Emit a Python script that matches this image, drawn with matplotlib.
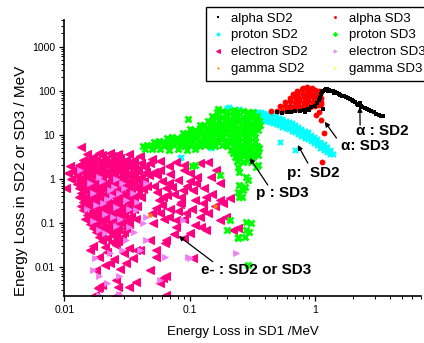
"""
dE-E particle identification plot: energy loss in SD2/SD3 vs SD1
(alpha, proton, electron and gamma bands, log-log)
"""

import matplotlib
matplotlib.use("Agg")
import matplotlib.pyplot as plt
from matplotlib.ticker import FixedLocator, FuncFormatter, NullFormatter

plt.rcParams['font.family'] = ['Liberation Sans', 'DejaVu Sans']

# ============================================
# DATA (MeV)
# ============================================
alpha_sd2 = [
    (0.5, 32), (0.55, 31.5), (0.6, 32), (0.65, 33), (0.7, 34), (0.76, 35),
    (0.82, 37), (0.88, 39), (0.94, 42), (1.0, 46), (1.05, 52), (1.08, 60),
    (1.1, 70), (1.12, 82), (1.15, 95), (1.2, 105), (1.25, 108), (1.3, 106),
    (1.35, 100), (1.4, 96), (1.45, 92), (1.5, 88), (1.55, 84), (1.6, 80),
    (1.66, 77), (1.72, 74), (1.78, 71), (1.84, 67), (1.9, 64), (1.97, 60),
    (2.03, 57), (2.1, 55), (2.18, 51), (2.25, 49), (2.32, 45), (2.4, 43),
    (2.5, 40), (2.6, 37.5), (2.7, 36), (2.82, 34), (2.95, 32), (3.1, 30),
    (3.25, 28.5), (3.4, 27), (3.5, 26), (0.83, 33), (1.16, 38), (1.17, 100),
    (1.22, 112), (1.28, 98), (1.42, 90), (2.2, 47), (2.3, 52), (0.9, 36),
]

alpha_sd3 = [
    (0.45, 34), (0.5, 35), (0.55, 35), (0.6, 36), (0.66, 37), (0.72, 38),
    (0.78, 39.5), (0.85, 41), (0.92, 43), (1.0, 45), (1.08, 48),
    (0.53, 44), (0.58, 46), (0.63, 44.5), (0.69, 46), (0.75, 45), (0.82, 47),
    (0.89, 46), (0.97, 48), (1.05, 50), (1.12, 49),
    (0.58, 55), (0.63, 57), (0.69, 55.5), (0.75, 57), (0.82, 56), (0.89, 58),
    (0.97, 56.5), (1.05, 58), (1.13, 56),
    (0.63, 69), (0.69, 71), (0.75, 69.5), (0.82, 71.5), (0.89, 70), (0.97, 72),
    (1.05, 70), (1.13, 68),
    (0.67, 85), (0.73, 87), (0.8, 85.5), (0.87, 88), (0.94, 86), (1.02, 88),
    (1.1, 85),
    (0.72, 100), (0.79, 107), (0.86, 104), (0.93, 108), (1.0, 103), (1.08, 98),
    (0.8, 116), (0.87, 119), (0.95, 114),
    (1.08, 33), (1.12, 21.5), (1.18, 10.7), (1.15, 2.36), (1.02, 28),
]

proton_sd2 = [
    (0.33, 27), (0.35, 26.5), (0.37, 26), (0.39, 25), (0.415, 24.5),
    (0.44, 23.5), (0.465, 22.5), (0.49, 21.5), (0.52, 20), (0.55, 18.5),
    (0.585, 17), (0.62, 16), (0.655, 15), (0.695, 13.8), (0.735, 12.5),
    (0.78, 11.3), (0.83, 10.3), (0.88, 9.4), (0.93, 8.5), (0.99, 7.6),
    (1.05, 6.7), (1.11, 5.9), (1.18, 5.2), (1.25, 4.6), (1.32, 4.1), (1.4, 3.7),
    (0.33, 33), (0.35, 32.5), (0.37, 32), (0.39, 31), (0.415, 30), (0.44, 29),
    (0.465, 27.5), (0.49, 26.5), (0.52, 24.5), (0.55, 22.5), (0.585, 21),
    (0.62, 19.5), (0.655, 18.3), (0.695, 16.8), (0.735, 15.2), (0.78, 13.7),
    (0.83, 12.4), (0.88, 11.3), (0.93, 10.1), (0.99, 9.0), (1.05, 7.9),
    (1.11, 6.9), (1.18, 6.0), (1.25, 5.3), (1.32, 4.6),
    (0.33, 22.5), (0.35, 22), (0.37, 21.5), (0.39, 20.5), (0.415, 20),
    (0.44, 19.5), (0.465, 18.5), (0.49, 17.5), (0.52, 16.5), (0.55, 15.2),
    (0.585, 14), (0.62, 13.2), (0.655, 12.4), (0.695, 11.4), (0.735, 10.4),
    (0.78, 9.4), (0.83, 8.6), (0.88, 7.8), (0.93, 7.1), (0.99, 6.4),
    (1.05, 5.7), (1.11, 5.0), (1.18, 4.5), (1.25, 4.0), (1.32, 3.7),
    (0.206, 43), (0.2, 40), (0.25, 38), (0.085, 3.1), (0.149, 4.9),
    (0.525, 6.9), (0.69, 4.5), (0.083, 2.9),
]

proton_sd3 = [
    (0.165, 33), (0.18, 34), (0.2, 32.5), (0.22, 34), (0.24, 33), (0.265, 34),
    (0.29, 32.5), (0.32, 33.5),
    (0.15, 26), (0.165, 27), (0.18, 25.5), (0.2, 26.5), (0.22, 26), (0.24, 27),
    (0.265, 25.5), (0.29, 26.5), (0.32, 26), (0.345, 27),
    (0.14, 21), (0.155, 21.5), (0.17, 20.5), (0.19, 21.5), (0.21, 21),
    (0.23, 20.5), (0.25, 21.5), (0.275, 21), (0.3, 20.5), (0.33, 21.5),
    (0.355, 21),
    (0.12, 17), (0.13, 16.5), (0.145, 17.5), (0.16, 17), (0.175, 16.5),
    (0.19, 17.5), (0.21, 17), (0.23, 16.5), (0.255, 17.5), (0.28, 17),
    (0.31, 16.5), (0.34, 17.5), (0.365, 17),
    (0.1, 13.5), (0.11, 13), (0.12, 14), (0.135, 13.5), (0.15, 13),
    (0.165, 14), (0.18, 13.5), (0.2, 13), (0.22, 14), (0.24, 13.5),
    (0.265, 13), (0.29, 14), (0.32, 13.5), (0.35, 13),
    (0.088, 11), (0.096, 10.7), (0.105, 11.3), (0.115, 11), (0.126, 10.7),
    (0.138, 11.3), (0.15, 11), (0.165, 10.7), (0.18, 11.3), (0.2, 11),
    (0.22, 10.7), (0.24, 11.3), (0.265, 11), (0.29, 10.7), (0.32, 11.2),
    (0.066, 8.5), (0.072, 8.8), (0.079, 8.6), (0.087, 9), (0.095, 8.7),
    (0.105, 8.9), (0.115, 8.6), (0.127, 9), (0.14, 8.7), (0.155, 8.9),
    (0.17, 8.6), (0.185, 9), (0.205, 8.7), (0.225, 8.9), (0.25, 8.6),
    (0.275, 9), (0.3, 8.7), (0.33, 8.8),
    (0.052, 6.9), (0.057, 7.1), (0.062, 6.9), (0.068, 7.2), (0.074, 7),
    (0.081, 6.9), (0.089, 7.2), (0.097, 7), (0.107, 6.9), (0.118, 7.1),
    (0.13, 7), (0.143, 6.9), (0.157, 7.2), (0.172, 7), (0.19, 6.9),
    (0.21, 7.1), (0.23, 7), (0.25, 6.9), (0.275, 7.2), (0.3, 7), (0.33, 6.9),
    (0.042, 5.5), (0.046, 5.7), (0.051, 5.5), (0.056, 5.8), (0.062, 5.6),
    (0.068, 5.5), (0.075, 5.7), (0.083, 5.6), (0.091, 5.5), (0.1, 5.7),
    (0.11, 5.6), (0.12, 5.5), (0.133, 5.7), (0.146, 5.6), (0.16, 5.5),
    (0.18, 5.7), (0.2, 5.6), (0.22, 5.5), (0.24, 5.7), (0.26, 5.6),
    (0.285, 5.5), (0.315, 5.7), (0.345, 5.6),
    (0.044, 4.8), (0.05, 4.7), (0.058, 4.8), (0.068, 4.6), (0.08, 4.8),
    (0.095, 4.6), (0.11, 4.8), (0.215, 4.6), (0.235, 4.8), (0.26, 4.6),
    (0.285, 4.8), (0.315, 4.6), (0.35, 4.7),
    (0.22, 3.8), (0.24, 3.9), (0.26, 3.7), (0.28, 3.9), (0.305, 3.8),
    (0.335, 3.7), (0.23, 3.1), (0.25, 3.0), (0.27, 3.2), (0.295, 3.0),
    (0.32, 3.1), (0.24, 2.5), (0.265, 2.4), (0.29, 2.6), (0.31, 2.4),
    (0.097, 22.7), (0.169, 38), (0.227, 36),
    (0.25, 1.44), (0.28, 1.1), (0.244, 1.87), (0.34, 1.87), (0.267, 0.55),
    (0.25, 0.39), (0.29, 0.93), (0.31, 0.097), (0.28, 0.068), (0.244, 0.048),
    (0.29, 0.011), (0.197, 0.068), (0.209, 0.115), (0.26, 0.39), (0.35, 3.45),
    (0.36, 4.9), (0.35, 2.05), (0.25, 0.72), (0.276, 0.66), (0.244, 0.51),
    (0.3, 0.062), (0.28, 0.105), (0.174, 1.2), (0.11, 2.05), (0.105, 1.9),
    (0.276, 0.048), (0.244, 0.044),
]

electron_sd2 = [
    # dense core
    (0.015, 3.7), (0.019, 3.9), (0.023, 3.8), (0.027, 3.6), (0.033, 3.7),
    (0.04, 3.3), (0.05, 2.8), (0.058, 2.5), (0.0136, 5.3),
    (0.017, 3.1), (0.020, 3.4), (0.024, 3.2), (0.028, 3.0),
    (0.014, 2.6), (0.016, 2.8), (0.018, 2.65), (0.021, 2.75), (0.024, 2.6),
    (0.027, 2.8), (0.031, 2.7), (0.036, 2.6),
    (0.013, 2.1), (0.015, 2.25), (0.017, 2.15), (0.019, 2.3), (0.022, 2.2),
    (0.025, 2.1), (0.028, 2.25), (0.032, 2.2), (0.036, 2.1), (0.041, 2.3),
    (0.0125, 1.75), (0.014, 1.85), (0.016, 1.8), (0.018, 1.7), (0.020, 1.85),
    (0.023, 1.8), (0.026, 1.75), (0.029, 1.9), (0.033, 1.8), (0.038, 1.7),
    (0.044, 1.85),
    (0.012, 1.4), (0.0135, 1.5), (0.015, 1.45), (0.017, 1.4), (0.019, 1.5),
    (0.021, 1.45), (0.024, 1.4), (0.027, 1.5), (0.030, 1.45), (0.034, 1.4),
    (0.039, 1.5), (0.045, 1.45), (0.052, 1.4),
    (0.0125, 1.15), (0.014, 1.1), (0.016, 1.2), (0.018, 1.15), (0.020, 1.1),
    (0.022, 1.2), (0.025, 1.15), (0.028, 1.1), (0.032, 1.2), (0.036, 1.15),
    (0.041, 1.1), (0.047, 1.2),
    (0.013, 0.92), (0.0145, 0.88), (0.016, 0.95), (0.018, 0.9), (0.020, 0.94),
    (0.023, 0.88), (0.026, 0.92), (0.029, 0.95), (0.033, 0.9), (0.038, 0.93),
    (0.043, 0.88),
    (0.0125, 0.74), (0.014, 0.71), (0.0155, 0.76), (0.017, 0.73),
    (0.019, 0.75), (0.021, 0.71), (0.024, 0.74), (0.027, 0.77), (0.031, 0.72),
    (0.035, 0.75), (0.040, 0.73), (0.046, 0.7),
    (0.013, 0.6), (0.0145, 0.57), (0.016, 0.61), (0.018, 0.58), (0.020, 0.6),
    (0.022, 0.57), (0.025, 0.6), (0.028, 0.62), (0.032, 0.58), (0.037, 0.6),
    (0.042, 0.57),
    (0.0135, 0.47), (0.015, 0.49), (0.017, 0.46), (0.019, 0.48),
    (0.021, 0.46), (0.024, 0.49), (0.027, 0.47), (0.030, 0.45), (0.034, 0.48),
    (0.039, 0.46),
    (0.013, 0.38), (0.0145, 0.36), (0.016, 0.39), (0.018, 0.37), (0.020, 0.38),
    (0.022, 0.36), (0.025, 0.39), (0.028, 0.37), (0.032, 0.38), (0.036, 0.36),
    (0.041, 0.39),
    (0.014, 0.3), (0.0155, 0.31), (0.017, 0.29), (0.019, 0.3), (0.021, 0.31),
    (0.024, 0.29), (0.027, 0.3), (0.031, 0.31), (0.035, 0.29),
    (0.0135, 0.24), (0.015, 0.23), (0.017, 0.25), (0.019, 0.24), (0.021, 0.23),
    (0.023, 0.25), (0.026, 0.24), (0.029, 0.23), (0.033, 0.245),
    (0.038, 0.235),
    (0.014, 0.19), (0.016, 0.2), (0.018, 0.185), (0.020, 0.195), (0.022, 0.19),
    (0.025, 0.2), (0.028, 0.185), (0.032, 0.19), (0.036, 0.2),
    (0.015, 0.15), (0.017, 0.145), (0.019, 0.155), (0.021, 0.15),
    (0.024, 0.145), (0.027, 0.155), (0.030, 0.15), (0.034, 0.145),
    (0.0145, 0.12), (0.016, 0.115), (0.018, 0.125), (0.020, 0.12),
    (0.022, 0.115), (0.025, 0.12), (0.028, 0.125), (0.032, 0.118),
    (0.037, 0.12),
    (0.016, 0.095), (0.018, 0.092), (0.020, 0.098), (0.023, 0.094),
    (0.026, 0.09), (0.029, 0.096), (0.033, 0.093),
    (0.017, 0.075), (0.019, 0.072), (0.021, 0.077), (0.024, 0.074),
    (0.027, 0.071), (0.031, 0.076),
    (0.018, 0.06), (0.020, 0.058), (0.023, 0.061), (0.026, 0.059), (0.030, 0.06),
    (0.019, 0.048), (0.022, 0.046), (0.025, 0.049), (0.029, 0.047),
    (0.020, 0.038), (0.024, 0.036), (0.027, 0.039),
    # in-between fill of the core
    (0.0155, 2.45), (0.0195, 2.5), (0.0235, 2.4), (0.029, 2.45), (0.034, 2.4),
    (0.0145, 1.6), (0.0185, 1.62), (0.0225, 1.6), (0.0285, 1.65),
    (0.0365, 1.6), (0.015, 1.02), (0.019, 1.03), (0.024, 1.0), (0.030, 1.04),
    (0.039, 1.0), (0.015, 0.66), (0.019, 0.67), (0.0235, 0.65), (0.0295, 0.67),
    (0.016, 0.42), (0.0205, 0.43), (0.026, 0.42), (0.033, 0.43),
    (0.016, 0.27), (0.0205, 0.27), (0.0265, 0.265), (0.017, 0.17),
    (0.023, 0.17), (0.029, 0.168),
    # left edge and lower tail
    (0.0103, 0.6), (0.0106, 1.37), (0.011, 1.9), (0.0112, 1.0),
    (0.017, 0.03), (0.021, 0.028), (0.026, 0.031), (0.033, 0.027),
    (0.016, 0.024), (0.022, 0.022), (0.03, 0.021), (0.04, 0.024),
    (0.019, 0.017), (0.025, 0.015), (0.035, 0.016), (0.021, 0.011),
    (0.028, 0.009), (0.018, 0.0085), (0.023, 0.012), (0.031, 0.012),
    # sparse part to the right
    (0.12, 2.24), (0.14, 2.4), (0.163, 1.58), (0.149, 1.1), (0.174, 0.8),
    (0.209, 0.36), (0.242, 0.076), (0.106, 0.55), (0.094, 0.166),
    (0.086, 0.39), (0.078, 0.115), (0.107, 0.0155), (0.061, 0.0055),
    (0.054, 0.024), (0.069, 0.137), (0.12, 0.137), (0.136, 0.068),
    (0.1, 0.058), (0.063, 0.034), (0.174, 0.33), (0.128, 0.276),
    (0.196, 0.137), (0.078, 2.4), (0.1, 1.33), (0.113, 0.785), (0.136, 0.39),
    (0.184, 0.28), (0.124, 0.081), (0.078, 0.081), (0.065, 0.04),
    (0.054, 0.017), (0.048, 0.0085), (0.065, 0.006), (0.033, 0.0035),
    (0.026, 0.0022), (0.019, 0.0035), (0.037, 0.024), (0.048, 0.04),
    (0.051, 0.097), (0.058, 0.164), (0.061, 0.39), (0.069, 0.785),
    (0.058, 1.58), (0.048, 2.24), (0.088, 0.55), (0.128, 0.19),
    (0.174, 0.115), (0.222, 0.068), (0.0174, 0.0023), (0.0185, 0.0032),
    (0.02, 0.0039), (0.026, 0.005), (0.027, 0.0035), (0.037, 0.0046),
    (0.058, 0.0043), (0.065, 0.0023),
    (0.055, 1.2), (0.06, 0.9), (0.065, 0.6), (0.07, 1.3), (0.075, 0.45),
    (0.08, 0.95), (0.085, 0.3), (0.09, 1.6), (0.095, 0.7), (0.055, 0.5),
    (0.06, 0.25), (0.07, 0.2), (0.08, 0.18), (0.09, 0.12), (0.052, 0.7),
    (0.057, 0.33), (0.066, 0.42), (0.072, 0.65), (0.083, 0.26), (0.11, 0.33),
    (0.115, 1.1), (0.13, 0.6), (0.14, 0.17), (0.15, 0.45), (0.16, 0.24),
    (0.105, 0.2), (0.1, 0.9), (0.09, 2.0), (0.068, 1.9), (0.054, 0.22),
    (0.062, 0.12), (0.05, 0.17), (0.075, 0.055), (0.09, 0.045), (0.11, 0.09),
]

electron_sd3 = [
    (0.0133, 1.58), (0.0168, 0.47), (0.023, 0.55), (0.0275, 0.47),
    (0.031, 0.33), (0.0203, 0.276), (0.0245, 0.137), (0.033, 0.081),
    (0.019, 0.068), (0.031, 0.04), (0.045, 0.04), (0.04, 0.024),
    (0.0168, 0.0085), (0.019, 0.006), (0.0275, 0.006), (0.058, 0.005),
    (0.029, 0.024), (0.023, 0.02), (0.045, 0.785), (0.016, 0.785),
    (0.019, 1.11), (0.021, 0.058), (0.037, 0.19), (0.045, 0.137),
    (0.026, 0.23), (0.029, 0.785), (0.035, 0.47), (0.236, 0.02),
    (0.1, 0.0155), (0.063, 0.017), (0.088, 0.115), (0.097, 0.0163),
    (0.0176, 0.0155), (0.019, 0.0023), (0.0275, 0.0024), (0.022, 0.0042),
    (0.022, 0.35), (0.025, 0.65), (0.018, 0.25), (0.021, 0.16), (0.028, 0.12),
    (0.024, 0.4), (0.03, 0.6), (0.033, 0.2), (0.017, 0.11), (0.02, 0.9),
    (0.026, 1.0), (0.038, 0.3), (0.042, 0.1), (0.036, 0.06), (0.015, 0.2),
    (0.026, 0.085),
]

gamma_sd2 = [(0.048, 0.15), (0.158, 0.24)]
gamma_sd3 = []

x_major = [0.01, 0.1, 1]
y_major = [0.01, 0.1, 1, 10, 100, 1000]

# (label, arrow head, arrow tail, text position) in MeV
annotations = [
    ("\u03b1 : SD2", (2.29, 42.6), (2.3, 16.6), (2.12, 12.1)),
    ("\u03b1: SD3", (1.2, 19.7), (1.49, 8.4), (1.61, 5.53)),
    ("p:  SD2", (0.731, 5.83), (0.879, 2.27), (0.594, 1.35)),
    ("p : SD3", (0.302, 2.95), (0.421, 0.719), (0.337, 0.473)),
    ("e- : SD2 or SD3", (0.0817, 0.0499), (0.153, 0.013), (0.124, 0.0084)),
]

# draw order and marker styles
SERIES = [
    ("proton SD2", proton_sd2,
     dict(marker='x', ms=3.6, mew=1.7, color='#00FFFF')),
    ("electron SD2", electron_sd2,
     dict(marker='<', ms=5.6, mew=0.8, color='#FF0080')),
    ("gamma SD2", gamma_sd2,
     dict(marker='o', ms=3.2, mew=0, color='#FF8000')),
    ("proton SD3", proton_sd3,
     dict(marker='x', ms=4.0, mew=2.0, color='#00FF00')),
    ("electron SD3", electron_sd3,
     dict(marker='>', ms=4.2, mew=0.5, color='#F27CF2')),
    ("gamma SD3", gamma_sd3,
     dict(marker='o', ms=3.2, mew=0, color='#FFFF00')),
    ("alpha SD3", alpha_sd3,
     dict(marker='o', ms=4.2, mew=0, color='#FF0000')),
    ("alpha SD2", alpha_sd2,
     dict(marker='s', ms=3.0, mew=0, color='black')),
]
LEGEND_ORDER = ["alpha SD2", "proton SD2", "electron SD2", "gamma SD2",
                "alpha SD3", "proton SD3", "electron SD3", "gamma SD3"]


def minor_ticks(lo_exp, hi_exp, vmin, vmax):
    """2..9 sub-ticks of each decade, kept inside the axis range"""
    out = []
    for e in range(lo_exp, hi_exp + 1):
        for s in range(2, 10):
            v = s * 10.0 ** e
            if vmin <= v <= vmax:
                out.append(v)
    return out


def plot_series(ax):
    handles = {}
    for label, pts, style in SERIES:
        xs = [p[0] for p in pts]
        ys = [p[1] for p in pts]
        line, = ax.plot(xs, ys, linestyle='none', label=label, **style)
        handles[label] = line
    return handles


def style_axes(ax):
    ax.set_xscale('log')
    ax.set_yscale('log')
    xlim = (0.01, 7.05)
    ylim = (0.00216, 4045)
    ax.set_xlim(*xlim)
    ax.set_ylim(*ylim)

    for side in ('top', 'right'):
        ax.spines[side].set_visible(False)
    for side in ('left', 'bottom'):
        ax.spines[side].set_linewidth(1.2)

    fmt = FuncFormatter(lambda v, _: f"{v:g}")
    ax.xaxis.set_major_locator(FixedLocator(x_major))
    ax.yaxis.set_major_locator(FixedLocator(y_major))
    ax.xaxis.set_minor_locator(FixedLocator(minor_ticks(-2, 0, *xlim)))
    ax.yaxis.set_minor_locator(FixedLocator(minor_ticks(-3, 3, *ylim)))
    for axis in (ax.xaxis, ax.yaxis):
        axis.set_major_formatter(fmt)
        axis.set_minor_formatter(NullFormatter())

    ax.tick_params(which='major', direction='out', length=3.6, width=0.9,
                   labelsize=7.5, pad=3)
    ax.tick_params(which='minor', direction='out', length=2.0, width=0.7)

    ax.set_xlabel("Energy Loss in SD1 /MeV", fontsize=9.5)
    ax.set_ylabel("Energy Loss in SD2 or SD3 / MeV", fontsize=11)
    ax.xaxis.set_label_coords(0.5, -0.11)
    ax.yaxis.set_label_coords(-0.103, 0.417)


def add_annotations(ax):
    for text, head, tail, pos in annotations:
        ax.annotate("", xy=head, xytext=tail,
                    arrowprops=dict(arrowstyle='-|>', color='black', lw=0.9,
                                    mutation_scale=7, shrinkA=0, shrinkB=0))
        ax.text(pos[0], pos[1], text, fontsize=11, fontweight='bold',
                ha='left', va='center')


def main():
    fig = plt.figure(figsize=(4.24, 3.43), dpi=100)
    ax = fig.add_axes([0.1521, 0.1370, 0.8408, 0.8047])

    handles = plot_series(ax)
    style_axes(ax)
    add_annotations(ax)

    leg = ax.legend([handles[k] for k in LEGEND_ORDER], LEGEND_ORDER,
                    ncol=2, loc='upper left', bbox_to_anchor=(0.4858, 0.9796),
                    bbox_transform=fig.transFigure, borderaxespad=0,
                    fontsize=9.5, handlelength=1.0, handletextpad=0.5,
                    columnspacing=1.6, labelspacing=0.36, markerscale=0.5,
                    fancybox=False, framealpha=1, edgecolor='black')
    leg.get_frame().set_linewidth(1.0)

    fig.savefig("out.png", dpi=100)
    plt.close(fig)


if __name__ == "__main__":
    main()
